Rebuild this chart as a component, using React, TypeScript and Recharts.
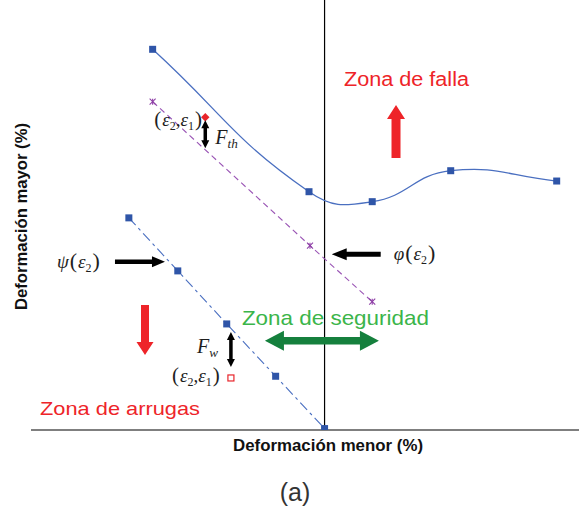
import React from 'react';
import {
  ComposedChart,
  Line,
  Scatter,
  XAxis,
  YAxis,
  ReferenceLine,
  ReferenceDot,
  Customized,
} from 'recharts';

// Forming limit curve (FLC)
const flcMinor = [-17.57, -1.59, 4.87, 12.89, 23.72];
const flcMajor = [53.12, 33.25, 31.86, 36.18, 34.74];
// Thinning limit φ(ε2)
const phiMinor = [-17.57, -1.49, 4.87];
const phiMajor = [45.81, 25.72, 17.9];
// Wrinkling limit ψ(ε2)
const psiMinor = [-20, -15, -10, -5, 0];
const psiMajor = [29.6, 22.2, 14.8, 7.5, 0.2];
// Strain states (ε2, ε1)
const stateMinor = [-12.19, -9.57];
const stateMajor = [43.63, 7.26];

const zip = (xs: number[], ys: number[]) => xs.map((x, i) => ({ x, y: ys[i] }));
const flcData = zip(flcMinor, flcMajor);
const phiData = zip(phiMinor, phiMajor);
const psiData = zip(psiMinor, psiMajor);
const upperState = [{ x: stateMinor[0], y: stateMajor[0] }];
const lowerState = [{ x: stateMinor[1], y: stateMajor[1] }];

const SANS = "'Liberation Sans', Arial, sans-serif";
const SERIF = "'Liberation Serif', 'Times New Roman', serif";
const RED = '#EE2429';
const MATH = '#1e1e1e';

// Smoothed line: cubic Bézier segments whose control arms follow the
// neighbour chord direction and scale with each segment's length.
const SMOOTH_TENSION = 0.45;
const smoothCurve = (context: any) => {
  let pts: [number, number][] = [];
  return {
    areaStart() {},
    areaEnd() {},
    lineStart() {
      pts = [];
    },
    point(x: number, y: number) {
      pts.push([+x, +y]);
    },
    lineEnd() {
      const n = pts.length;
      if (!n) return;
      context.moveTo(pts[0][0], pts[0][1]);
      if (n === 1) return;
      const tan = pts.map((_, i) => {
        const a = pts[Math.max(i - 1, 0)];
        const b = pts[Math.min(i + 1, n - 1)];
        const dx = b[0] - a[0];
        const dy = b[1] - a[1];
        const l = Math.hypot(dx, dy) || 1;
        return [dx / l, dy / l];
      });
      for (let i = 0; i < n - 1; i++) {
        const p = pts[i];
        const q = pts[i + 1];
        const k = SMOOTH_TENSION * Math.hypot(q[0] - p[0], q[1] - p[1]);
        context.bezierCurveTo(
          p[0] + tan[i][0] * k,
          p[1] + tan[i][1] * k,
          q[0] - tan[i + 1][0] * k,
          q[1] - tan[i + 1][1] * k,
          q[0],
          q[1],
        );
      }
    },
  };
};

// Block arrow outline from (x1,y1) to tip (x2,y2); optionally headed at both ends
function arrowPath(
  x1: number, y1: number, x2: number, y2: number,
  shaft: number, headW: number, headL: number, both = false,
): string {
  const len = Math.hypot(x2 - x1, y2 - y1);
  const ux = (x2 - x1) / len, uy = (y2 - y1) / len;
  const nx = -uy, ny = ux;
  const s = shaft / 2, h = headW / 2;
  const bx = x2 - ux * headL, by = y2 - uy * headL;
  const pts: [number, number][] = [];
  if (both) {
    const ax = x1 + ux * headL, ay = y1 + uy * headL;
    pts.push([x1, y1], [ax + nx * h, ay + ny * h], [ax + nx * s, ay + ny * s]);
    pts.push([bx + nx * s, by + ny * s], [bx + nx * h, by + ny * h], [x2, y2]);
    pts.push([bx - nx * h, by - ny * h], [bx - nx * s, by - ny * s]);
    pts.push([ax - nx * s, ay - ny * s], [ax - nx * h, ay - ny * h]);
  } else {
    pts.push([x1 + nx * s, y1 + ny * s], [bx + nx * s, by + ny * s], [bx + nx * h, by + ny * h], [x2, y2]);
    pts.push([bx - nx * h, by - ny * h], [bx - nx * s, by - ny * s], [x1 - nx * s, y1 - ny * s]);
  }
  return 'M' + pts.map((p) => `${p[0].toFixed(2)},${p[1].toFixed(2)}`).join('L') + 'Z';
}

const squareDot = (size: number, fill: string) => (p: any) => (
  <rect
    key={`sq-${p.index}-${p.cx}`}
    x={p.cx - size / 2}
    y={p.cy - size / 2}
    width={size}
    height={size}
    fill={fill}
  />
);

const crossDot = (p: any) => (
  <g key={`cx-${p.index}-${p.cx}`} stroke="#8E3FA6" strokeWidth={1.1}>
    <line x1={p.cx - 3} y1={p.cy - 3} x2={p.cx + 3} y2={p.cy + 3} />
    <line x1={p.cx - 3} y1={p.cy + 3} x2={p.cx + 3} y2={p.cy - 3} />
    <line x1={p.cx} y1={p.cy - 3} x2={p.cx} y2={p.cy + 3} />
  </g>
);

// (ε2, ε1)
const StatePair = ({ x, y }: { x: number; y: number }) => (
  <text x={x} y={y} fontFamily={SERIF} fontSize={19} fill={MATH} fontStyle="italic">
    <tspan fontStyle="normal" fontSize={21}>(</tspan>
    <tspan dx={1}>ε</tspan>
    <tspan dy={4} fontSize={12} fontStyle="normal">2</tspan>
    <tspan dy={-4} fontStyle="normal">,</tspan>
    <tspan>ε</tspan>
    <tspan dy={4} fontSize={12} fontStyle="normal">1</tspan>
    <tspan dy={-4} dx={1} fontStyle="normal" fontSize={21}>)</tspan>
  </text>
);

// f(ε2)
const FuncOf = ({ x, y, f }: { x: number; y: number; f: string }) => (
  <text x={x} y={y} fontFamily={SERIF} fontSize={19} fill={MATH} fontStyle="italic">
    <tspan>{f}</tspan>
    <tspan fontStyle="normal" fontSize={22} dx={1}>(</tspan>
    <tspan dx={1}>ε</tspan>
    <tspan dy={4} fontSize={12} fontStyle="normal">2</tspan>
    <tspan dy={-4} dx={1} fontStyle="normal" fontSize={22}>)</tspan>
  </text>
);

const FSub = ({ x, y, sub, size }: { x: number; y: number; sub: string; size: number }) => (
  <text x={x} y={y} fontFamily={SERIF} fontSize={size} fill={MATH} fontStyle="italic">
    <tspan>F</tspan>
    <tspan dy={4} fontSize={size * 0.66}>{sub}</tspan>
  </text>
);

const FigureTag = () => (
  <text x={295} y={501} textAnchor="middle" fontFamily={SANS} fontSize={25} fill="#333">
    (a)
  </text>
);

const XTitle = (p: any) => {
  const vb = p.viewBox;
  return (
    <text
      x={vb.x + 202}
      y={vb.y + 21}
      fontFamily={SANS}
      fontWeight="bold"
      fontSize={16.5}
      fill="#111"
      textLength={190}
      lengthAdjust="spacingAndGlyphs"
    >
      Deformación menor (%)
    </text>
  );
};

const YTitle = (p: any) => {
  const vb = p.viewBox;
  const cx = vb.x + 27;
  const cy = vb.y + vb.height / 2 + 95;
  return (
    <text
      x={cx}
      y={cy}
      transform={`rotate(-90 ${cx} ${cy})`}
      fontFamily={SANS}
      fontWeight="bold"
      fontSize={16.5}
      fill="#111"
      textLength={187}
      lengthAdjust="spacingAndGlyphs"
    >
      Deformación mayor (%)
    </text>
  );
};

export default function App() {
  return (
    <div style={{ position: 'absolute', left: 0, top: 0, background: '#fff' }}>
      <ComposedChart width={582} height={510} margin={{ top: 0, right: 3, left: 0, bottom: 50 }}>
        <XAxis
          type="number"
          dataKey="x"
          domain={[-30, 26]}
          allowDataOverflow
          tick={false}
          tickLine={false}
          axisLine={{ stroke: '#000', strokeWidth: 1.2 }}
          height={30}
          label={{ content: XTitle }}
        />
        <YAxis
          type="number"
          dataKey="y"
          domain={[0, 60]}
          allowDataOverflow
          tick={false}
          tickLine={false}
          axisLine={false}
          width={31}
          label={{ content: YTitle }}
        />
        <ReferenceLine x={0} stroke="#000" strokeWidth={1.2} />

        <Line
          data={psiData}
          dataKey="y"
          type="linear"
          stroke="#4A6FC0"
          strokeWidth={1.1}
          strokeDasharray="10 4 3 4"
          dot={squareDot(7, '#2F55A8')}
          isAnimationActive={false}
        />
        <Line
          data={phiData}
          dataKey="y"
          type="linear"
          stroke="#9A55B5"
          strokeWidth={1.1}
          strokeDasharray="6 4"
          dot={crossDot}
          isAnimationActive={false}
        />
        <Line
          data={flcData}
          dataKey="y"
          type={smoothCurve as any}
          stroke="#4A6FC0"
          strokeWidth={1.3}
          dot={squareDot(7, '#2F55A8')}
          isAnimationActive={false}
        />

        <Scatter
          data={upperState}
          dataKey="y"
          isAnimationActive={false}
          shape={(p: any) => (
            <rect
              x={p.cx - 3}
              y={p.cy - 3}
              width={6}
              height={6}
              fill="#E8252B"
              transform={`rotate(45 ${p.cx} ${p.cy})`}
            />
          )}
        />
        <Scatter
          data={lowerState}
          dataKey="y"
          isAnimationActive={false}
          shape={(p: any) => (
            <rect x={p.cx - 3} y={p.cy - 3} width={6} height={6} fill="#fff" stroke="#E8252B" strokeWidth={1.2} />
          )}
        />

        {/* F_th between strain state and φ */}
        <ReferenceDot
          x={stateMinor[0]}
          y={stateMajor[0]}
          r={0}
          ifOverflow="visible"
          shape={(p: any) => (
            <g>
              <path d={arrowPath(p.cx, p.cy + 3, p.cx, p.cy + 31, 3.5, 8, 8, true)} fill="#000" />
              <FSub x={p.cx + 10} y={p.cy + 27} sub="th" size={20} />
              <StatePair x={p.cx - 51} y={p.cy + 9} />
            </g>
          )}
        />
        {/* F_w between ψ and strain state */}
        <ReferenceDot
          x={stateMinor[1]}
          y={stateMajor[1]}
          r={0}
          ifOverflow="visible"
          shape={(p: any) => (
            <g>
              <path d={arrowPath(p.cx, p.cy - 46, p.cx, p.cy - 11, 3.5, 8, 8, true)} fill="#000" />
              <FSub x={p.cx - 34} y={p.cy - 25} sub="w" size={20} />
              <StatePair x={p.cx - 59} y={p.cy + 4} />
            </g>
          )}
        />

        {/* ψ(ε2) pointer */}
        <ReferenceDot
          x={-16.31}
          y={23.48}
          r={0}
          ifOverflow="visible"
          shape={(p: any) => (
            <g>
              <path d={arrowPath(p.cx - 50, p.cy, p.cx, p.cy, 4.5, 11, 13)} fill="#000" />
              <FuncOf x={p.cx - 108} y={p.cy + 6} f="ψ" />
            </g>
          )}
        />
        {/* φ(ε2) pointer */}
        <ReferenceDot
          x={0.73}
          y={24.52}
          r={0}
          ifOverflow="visible"
          shape={(p: any) => (
            <g>
              <path d={arrowPath(p.cx + 49, p.cy, p.cx, p.cy, 5, 12, 15)} fill="#000" />
              <FuncOf x={p.cx + 62} y={p.cy + 6} f="φ" />
            </g>
          )}
        />

        {/* Failure zone */}
        <ReferenceDot
          x={7.3}
          y={45.35}
          r={0}
          ifOverflow="visible"
          shape={(p: any) => (
            <g>
              <path d={arrowPath(p.cx, p.cy + 53, p.cx, p.cy, 9, 18, 14)} fill={RED} />
              <text
                x={p.cx - 52}
                y={p.cy - 19}
                fontFamily={SANS}
                fontSize={20}
                fill={RED}
                textLength={125}
                lengthAdjust="spacingAndGlyphs"
              >
                Zona de falla
              </text>
            </g>
          )}
        />
        {/* Safe zone */}
        <ReferenceDot
          x={-0.27}
          y={12.46}
          r={0}
          ifOverflow="visible"
          shape={(p: any) => (
            <g>
              <path d={arrowPath(p.cx - 57, p.cy, p.cx + 57, p.cy, 7.5, 20, 19, true)} fill="#15803D" />
              <text
                x={p.cx - 80}
                y={p.cy - 16}
                fontFamily={SANS}
                fontSize={21}
                fill="#3BB54A"
                textLength={187}
                lengthAdjust="spacingAndGlyphs"
              >
                Zona de seguridad
              </text>
            </g>
          )}
        />
        {/* Wrinkling zone */}
        <ReferenceDot
          x={-18.35}
          y={10.47}
          r={0}
          ifOverflow="visible"
          shape={(p: any) => (
            <g>
              <path d={arrowPath(p.cx, p.cy - 50, p.cx, p.cy, 8, 17, 13)} fill={RED} />
              <text
                x={p.cx - 105}
                y={p.cy + 60}
                fontFamily={SANS}
                fontSize={19}
                fill={RED}
                textLength={160}
                lengthAdjust="spacingAndGlyphs"
              >
                Zona de arrugas
              </text>
            </g>
          )}
        />

        <Customized component={FigureTag} />
      </ComposedChart>
    </div>
  );
}
